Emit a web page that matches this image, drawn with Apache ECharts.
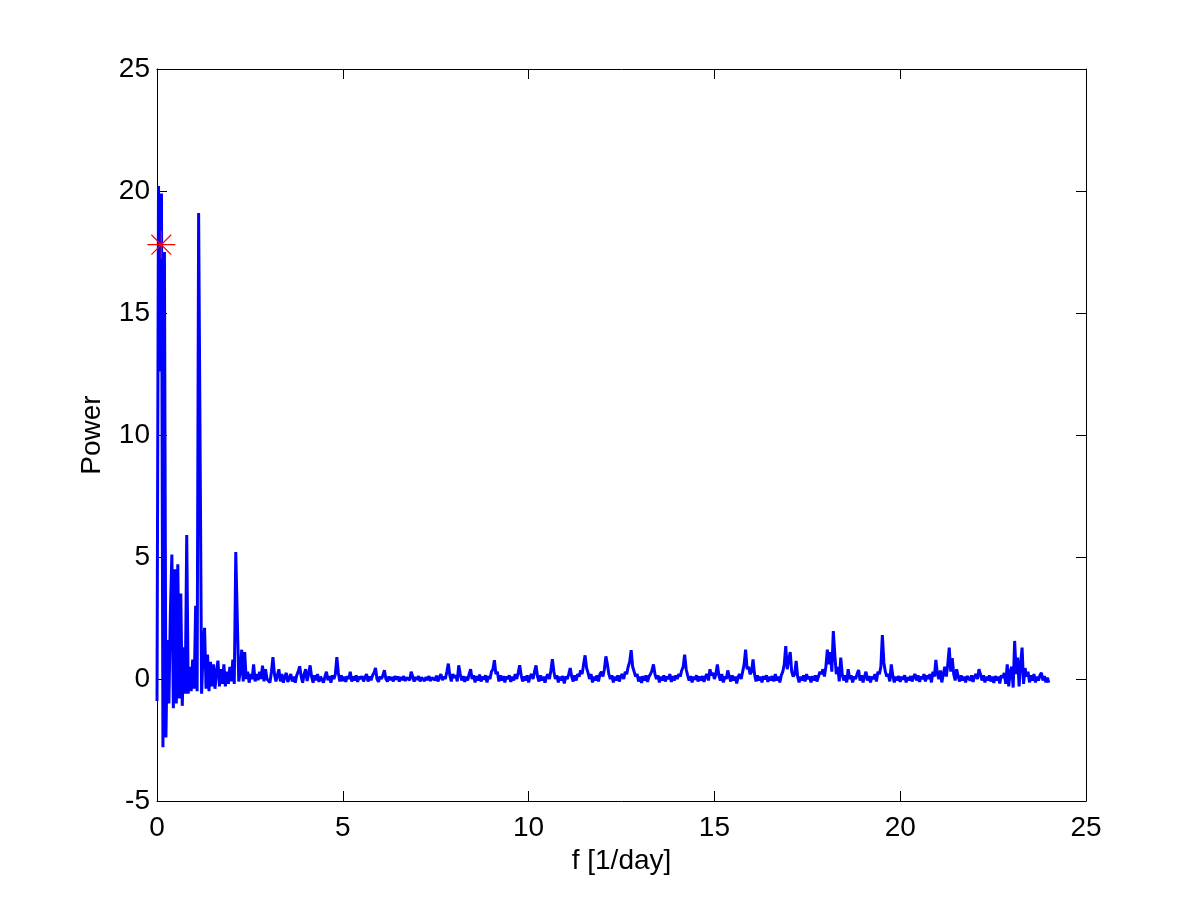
<!DOCTYPE html>
<html>
<head>
<meta charset="utf-8">
<script src="https://cdn.jsdelivr.net/npm/echarts@6/dist/echarts.min.js"></script>
<style>
html,body{margin:0;padding:0;background:#fff;}
#chart{width:1200px;height:900px;}
</style>
</head>
<body>
<div id="chart"></div>
<script>
// Frequency sampling of the periodogram [1/day]
var freqStep = 0.04;

// Power, f = 0.00 .. 2.96
var powerLow = [-0.9,20.2,12.6,19.9,-2.8,17.5,-2.4,1.6,-1.0,2.7,5.1,-1.2,4.5,-1.0,4.7,-0.8,3.5,-1.1,1.3,-0.6,
5.9,-0.6,0.5,-0.5,0.8,-0.4,3.0,-0.5,19.1,9.5,-0.6,1.1,2.1,-0.4,1.0,-0.5,0.7,-0.3,0.6,-0.4,
0.3,0.75,-0.3,0.4,-0.2,0.6,-0.3,0.3,-0.2,0.5,-0.1,0.8,-0.2,5.2,2.5,-0.1,0.3,1.2,-0.1,1.1,
0.0,0.3,-0.15,0.2,0.0,0.6,-0.1,0.2,-0.05,0.3,0.0,0.55,-0.1,0.4,0.0];

// Power, f = 3.00 .. 7.96
var powerMidA = [0.05,-0.15,0.3,0.9,0.2,-0.1,0.15,0.4,-0.1,0.2,-0.15,0.1,0.25,-0.12,0.05,0.2,-0.1,0.1,-0.15,0.15,
0.3,0.52,0.1,-0.15,0.2,0.4,-0.08,0.2,0.56,0.1,-0.15,0.15,-0.05,0.2,-0.12,0.1,0.15,-0.15,0.1,0.3,
-0.05,0.12,-0.15,0.15,0.0,0.2,0.9,0.25,-0.1,0.15,-0.08,0.1,-0.12,0.12,0.0,0.3,-0.1,0.1,-0.06,0.15,
-0.12,0.1,0.0,0.12,-0.1,0.08,0.2,-0.1,0.1,-0.05,0.15,0.25,0.45,0.0,-0.12,0.1,0.0,0.15,0.36,0.0,
-0.1,0.1,-0.05,0.08,-0.1,0.12,-0.02,0.1,-0.1,0.08,-0.04,0.12,-0.08,0.06,0.1,-0.05,0.3,0.1,-0.1,0.08,
-0.03,0.12,-0.1,0.06,0.1,-0.08,0.08,-0.04,0.12,-0.08,0.06,0.1,-0.05,0.14,-0.1,0.08,0.2,-0.05,0.1,0.0,
0.3,0.63,0.15,-0.1,0.2];

// Power, f = 8.00 .. 15.96
var powerMidB = [0.05,0.15,-0.1,0.56,0.2,-0.06,0.12,-0.12,0.1,-0.06,0.2,0.4,0.0,0.15,-0.14,0.12,-0.06,0.18,-0.1,0.1,
-0.02,0.15,-0.14,0.12,0.0,0.3,0.4,0.77,0.2,0.3,-0.1,0.15,-0.06,0.12,-0.14,0.1,0.0,0.15,-0.12,0.1,
-0.06,0.2,0.0,0.25,0.56,0.15,-0.1,0.1,-0.06,0.15,-0.14,0.1,0.2,0.0,0.3,0.56,0.1,-0.1,0.15,-0.06,
0.1,-0.15,0.08,0.2,0.0,0.35,0.81,0.3,0.0,0.15,-0.14,0.1,-0.06,0.12,-0.18,0.1,0.0,0.2,0.45,0.1,
-0.1,0.15,-0.06,0.2,0.1,0.35,0.2,0.6,0.97,0.45,0.25,0.0,0.2,-0.14,0.1,-0.06,0.15,-0.1,0.2,0.3,
0.1,0.4,0.93,0.6,0.2,0.0,0.15,-0.14,0.1,-0.06,0.15,-0.1,0.1,0.2,0.0,0.3,0.2,0.5,0.7,1.18,
0.5,0.3,0.1,0.2,-0.1,0.1,-0.16,0.12,-0.06,0.15,-0.12,0.1,0.2,0.35,0.6,0.2,0.0,0.15,-0.14,0.1,
-0.06,0.15,-0.1,0.1,0.0,0.2,-0.12,0.12,-0.06,0.15,0.0,0.2,0.1,0.35,0.5,1.0,0.4,0.15,-0.06,0.12,
-0.14,0.1,-0.02,0.15,-0.1,0.1,-0.06,0.12,-0.12,0.1,0.2,-0.06,0.4,0.15,0.25,0.0,0.2,0.6,0.15,-0.06,
0.2,-0.14,0.1,0.0,0.35,0.1,-0.1,0.15,-0.06,0.1,-0.18,0.1,0.2,0.0,0.3,0.6,1.2,0.4,0.5,0.2];

// Power, f = 16.00 .. 24.00
var powerHigh = [0.3,0.8,0.2,-0.1,0.15,-0.06,0.1,-0.14,0.12,-0.02,0.15,-0.12,0.1,-0.06,0.12,-0.1,0.2,-0.06,0.1,-0.14,
0.15,0.3,0.6,1.35,0.4,0.8,1.1,0.3,0.1,0.2,0.74,0.1,-0.14,0.1,-0.06,0.15,-0.1,0.2,0.0,0.1,
-0.14,0.12,-0.06,0.15,-0.1,0.1,0.3,0.2,0.4,0.1,0.5,1.2,0.6,1.1,0.3,1.96,1.0,0.2,0.5,-0.1,
0.88,0.2,-0.06,0.15,-0.14,0.4,0.0,0.15,-0.14,0.1,0.0,0.2,0.37,-0.06,0.15,-0.14,0.1,0.3,-0.06,0.12,
-0.14,0.1,0.0,0.2,-0.1,0.3,0.2,0.5,1.8,0.68,0.3,0.1,0.2,-0.1,0.6,0.15,-0.14,0.1,-0.06,0.12,
-0.12,0.1,-0.02,0.15,-0.14,0.08,-0.06,0.12,-0.1,0.1,0.2,-0.06,0.15,-0.12,0.1,0.0,0.2,-0.1,0.15,0.0,
0.2,-0.14,0.3,0.1,0.78,0.2,0.0,0.35,-0.14,0.2,0.5,0.1,0.6,1.29,0.3,0.85,0.2,-0.06,0.4,0.1,
-0.1,0.15,-0.06,0.1,-0.14,0.12,0.2,-0.06,0.15,-0.12,0.1,0.2,0.0,0.4,0.2,-0.06,0.15,-0.14,0.1,-0.06,
0.15,-0.1,0.1,-0.16,0.12,-0.06,0.1,-0.18,0.15,0.05,0.25,-0.2,0.6,-0.3,0.3,0.5,-0.35,1.56,0.2,0.88,
-0.3,0.6,1.29,-0.2,0.45,0.1,0.3,-0.14,0.15,-0.06,0.2,-0.14,0.1,-0.06,0.15,0.25,-0.06,0.12,-0.14,0.05,
-0.15];

// Marked maximum (red asterisk)
var markFreq = [0.116];
var markPower = [17.8];

// Axis ticks
var xTicks = {min: 0, max: 25, interval: 5};
var yTicks = {min: -5, max: 25, interval: 5};

var power = powerLow.concat(powerMidA, powerMidB, powerHigh);
var lineData = power.map(function (p, i) { return [Math.round(i * freqStep * 100) / 100, p]; });
var markData = markFreq.map(function (f, i) { return [f, markPower[i]]; });

var font = 'Liberation Sans, Arial, Helvetica, sans-serif';
var tickStyle = {show: true, inside: true, length: 10, lineStyle: {color: '#000', width: 1}};
var lineStyleAx = {show: true, onZero: false, lineStyle: {color: '#000', width: 1}};

var chart = echarts.init(document.getElementById('chart'), null, {renderer: 'canvas'});
chart.setOption({
  animation: false,
  backgroundColor: '#fff',
  grid: {left: 157, right: 114, top: 69, bottom: 99, containLabel: false},
  xAxis: [
    {type: 'value', position: 'bottom', min: xTicks.min, max: xTicks.max, interval: xTicks.interval,
     axisLine: lineStyleAx, axisTick: tickStyle, splitLine: {show: false},
     axisLabel: {fontSize: 28, fontFamily: font, color: '#000', margin: 13},
     name: 'f [1/day]', nameLocation: 'middle', nameGap: 42,
     nameTextStyle: {fontSize: 28, fontFamily: font, color: '#000'}},
    {type: 'value', position: 'top', min: xTicks.min, max: xTicks.max, interval: xTicks.interval,
     axisLine: lineStyleAx, axisTick: tickStyle, splitLine: {show: false}, axisLabel: {show: false}}
  ],
  yAxis: [
    {type: 'value', position: 'left', min: yTicks.min, max: yTicks.max, interval: yTicks.interval,
     axisLine: lineStyleAx, axisTick: tickStyle, splitLine: {show: false},
     axisLabel: {fontSize: 28, fontFamily: font, color: '#000', margin: 7},
     name: 'Power', nameLocation: 'middle', nameGap: 51,
     nameTextStyle: {fontSize: 28, fontFamily: font, color: '#000'}},
    {type: 'value', position: 'right', min: yTicks.min, max: yTicks.max, interval: yTicks.interval,
     axisLine: lineStyleAx, axisTick: tickStyle, splitLine: {show: false}, axisLabel: {show: false}}
  ],
  series: [
    {type: 'line', data: lineData, xAxisIndex: 0, yAxisIndex: 0, showSymbol: false, symbol: 'none',
     sampling: null, lineStyle: {color: '#0000ff', width: 3}, z: 2, silent: true},
    {type: 'scatter', data: markData, xAxisIndex: 0, yAxisIndex: 0,
     symbol: 'path://M0,-10L0,10M-10,0L10,0M-7.07,-7.07L7.07,7.07M-7.07,7.07L7.07,-7.07',
     symbolSize: 28, itemStyle: {color: 'rgba(0,0,0,0)', borderColor: '#ff0000', borderWidth: 1.2, opacity: 1}, z: 5}
  ]
});
</script>
</body>
</html>
